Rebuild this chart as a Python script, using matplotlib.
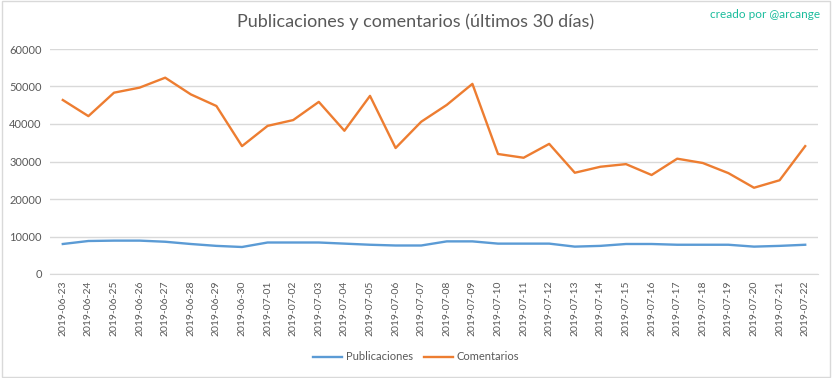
import matplotlib
matplotlib.use("Agg")
import matplotlib.pyplot as plt
from matplotlib.patches import Rectangle

dates = ["2019-06-23","2019-06-24","2019-06-25","2019-06-26","2019-06-27","2019-06-28","2019-06-29",
         "2019-06-30","2019-07-01","2019-07-02","2019-07-03","2019-07-04","2019-07-05","2019-07-06",
         "2019-07-07","2019-07-08","2019-07-09","2019-07-10","2019-07-11","2019-07-12","2019-07-13",
         "2019-07-14","2019-07-15","2019-07-16","2019-07-17","2019-07-18","2019-07-19","2019-07-20",
         "2019-07-21","2019-07-22"]
publicaciones = [8000, 8800, 8900, 8900, 8600, 8000, 7500, 7200, 8400, 8400, 8400, 8100, 7800, 7600,
                 7600, 8700, 8700, 8100, 8100, 8100, 7300, 7500, 8000, 8000, 7800, 7800, 7800, 7300,
                 7500, 7800]
comentarios = [46400, 42100, 48350, 49700, 52350, 47900, 44800, 34100, 39500, 41050, 45900, 38200,
               47500, 33600, 40600, 45100, 50700, 32000, 31000, 34700, 27000, 28600, 29300, 26400,
               30750, 29600, 26900, 23000, 25000, 34100]
yticks = [0, 10000, 20000, 30000, 40000, 50000, 60000]

plt.rcParams['font.family'] = ['Lato', 'DejaVu Sans']
txt = '#595959'

fig = plt.figure(figsize=(8.32, 3.78), dpi=100)
ax = fig.add_axes([50/832, 1-274/378, 768/832, 225/378])

x = list(range(len(dates)))
ax.plot(x, publicaciones, color='#5B9BD5', lw=1.7, label='Publicaciones')
ax.plot(x, comentarios, color='#ED7D31', lw=1.7, label='Comentarios')

ax.set_xlim(-0.5, len(dates)-0.5)
ax.set_ylim(0, 60000)
ax.set_yticks(yticks)
ax.set_yticklabels([str(v) for v in yticks], fontsize=8, color=txt)
ax.set_xticks(x)
ax.set_xticklabels(dates, rotation=90, fontsize=7.5, color=txt)
ax.tick_params(axis='both', length=0, pad=6)
ax.tick_params(axis='x', pad=5)
ax.grid(axis='y', color='#D9D9D9', lw=1)
ax.set_axisbelow(True)
for s in ['left', 'right', 'top']:
    ax.spines[s].set_visible(False)
ax.spines['bottom'].set_color('#D9D9D9')

fig.text(0.5, 1-22/378, 'Publicaciones y comentarios (últimos 30 días)', ha='center', va='center',
         fontsize=13, color=txt)
fig.text(820/832, 1-15/378, 'creado por @arcange', ha='right', va='center', fontsize=8.5, color='#1ABC9C')

leg = fig.legend(loc='center', bbox_to_anchor=(0.5, 1-357/378), ncol=2, frameon=False,
                 fontsize=8, handlelength=2.6, columnspacing=1.0, handletextpad=0.3)
for t in leg.get_texts():
    t.set_color(txt)

fig.patches.append(Rectangle((0.002, 0.003), 0.995, 0.994, transform=fig.transFigure,
                             fill=False, edgecolor='#D9D9D9', lw=1))
fig.savefig('out.png', dpi=100, facecolor='white')
